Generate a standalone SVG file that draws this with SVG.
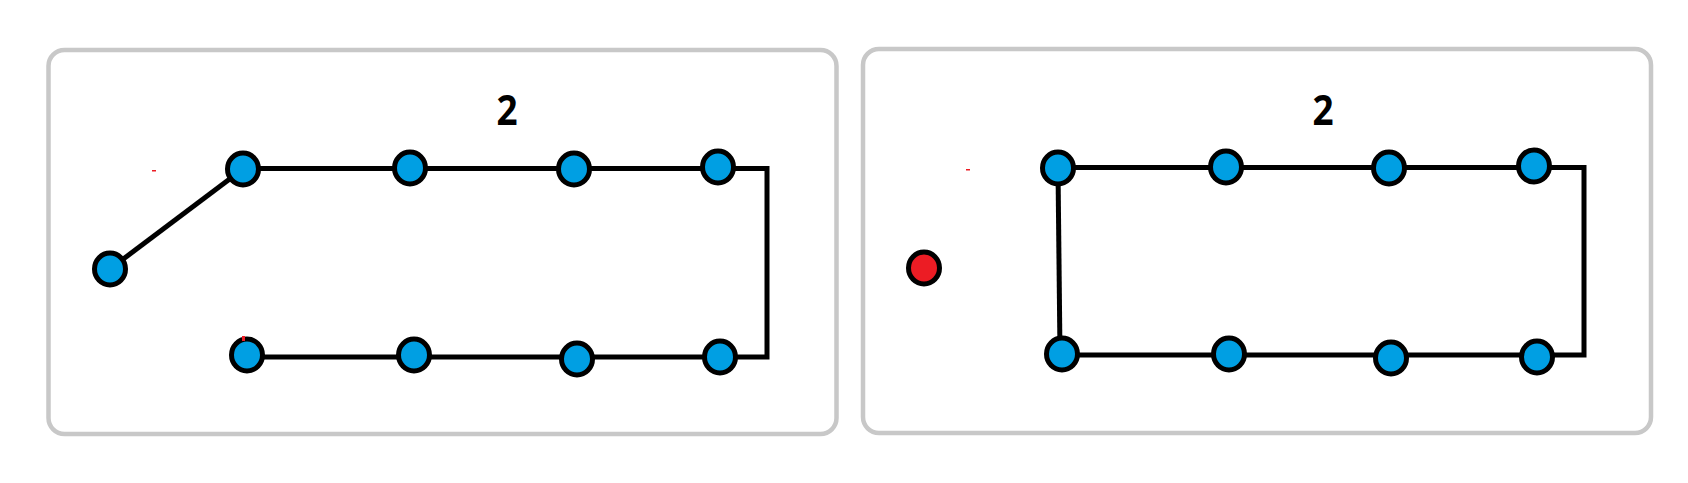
<svg xmlns="http://www.w3.org/2000/svg" width="1688" height="483" viewBox="0 0 1688 483">
<style>
.panel{fill:#ffffff;stroke:#c8c8c8;stroke-width:4.5}
.node{fill:#009fe3;stroke:#000;stroke-width:5}
.red{fill:#ec1c24;stroke:#000;stroke-width:5}
.wire{fill:none;stroke:#000;stroke-width:5;stroke-linejoin:miter}
.lbl{font-family:"Open Sans","Noto Sans",sans-serif;font-weight:700;font-size:41px;fill:#000;text-anchor:middle}
.mark{fill:#ec1c24}
</style>
<rect width="1688" height="483" fill="#ffffff"/>
<g id="panel-left">
<rect class="panel" x="48.5" y="50" width="788" height="384" rx="16"/>
<text class="lbl" transform="translate(507 125) scale(0.9 1)">2</text>
<rect class="mark" x="152" y="170" width="4" height="1.5"/>
</g>
<g id="panel-right">
<rect class="panel" x="863" y="49" width="788" height="384" rx="16"/>
<text class="lbl" transform="translate(1323 125) scale(0.9 1)">2</text>
<rect class="mark" x="966" y="169" width="4" height="1.5"/>
</g>
<g id="connectors">
<path class="wire" d="M243 168.5 H767 V357 H247"/>
<path class="wire" d="M110 269 L243 169"/>
<path class="wire" d="M1058 167.5 H1584 V355 H1062"/>
<path class="wire" d="M1058 168 L1060 354"/>
</g>
<g id="L-lone"><ellipse class="node" cx="110" cy="269" rx="15.5" ry="16"/></g>
<g id="L-t1"><ellipse class="node" cx="243" cy="169" rx="15.5" ry="16"/></g>
<g id="L-t2"><ellipse class="node" cx="410" cy="168" rx="15.5" ry="16"/></g>
<g id="L-t3"><ellipse class="node" cx="574" cy="169" rx="15.5" ry="16"/></g>
<g id="L-t4"><ellipse class="node" cx="718" cy="167" rx="15.5" ry="16"/></g>
<g id="L-b1"><ellipse class="node" cx="247" cy="355" rx="15.5" ry="16"/><rect class="mark" x="242" y="336" width="3" height="5"/></g>
<g id="L-b2"><ellipse class="node" cx="414" cy="355" rx="15.5" ry="16"/></g>
<g id="L-b3"><ellipse class="node" cx="577" cy="359" rx="15.5" ry="16"/></g>
<g id="L-b4"><ellipse class="node" cx="720" cy="357" rx="15.5" ry="16"/></g>
<g id="R-red"><ellipse class="red" cx="924" cy="268" rx="15.5" ry="16"/></g>
<g id="R-t1"><ellipse class="node" cx="1058" cy="168" rx="15.5" ry="16"/></g>
<g id="R-t2"><ellipse class="node" cx="1226" cy="167" rx="15.5" ry="16"/></g>
<g id="R-t3"><ellipse class="node" cx="1389" cy="168" rx="15.5" ry="16"/></g>
<g id="R-t4"><ellipse class="node" cx="1534" cy="166" rx="15.5" ry="16"/></g>
<g id="R-b1"><ellipse class="node" cx="1062" cy="354" rx="15.5" ry="16"/></g>
<g id="R-b2"><ellipse class="node" cx="1229" cy="354" rx="15.5" ry="16"/></g>
<g id="R-b3"><ellipse class="node" cx="1391" cy="358" rx="15.5" ry="16"/></g>
<g id="R-b4"><ellipse class="node" cx="1537" cy="357" rx="15.5" ry="16"/></g>
</svg>
